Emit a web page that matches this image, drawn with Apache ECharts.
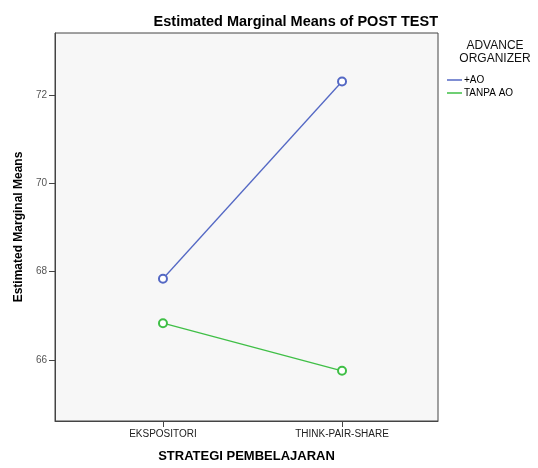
<!DOCTYPE html>
<html>
<head>
<meta charset="utf-8">
<script src="https://cdn.jsdelivr.net/npm/echarts@6/dist/echarts.min.js"></script>
<style>
  html, body { margin: 0; padding: 0; background: #fff; }
  #chart { width: 538px; height: 468px; }
</style>
</head>
<body>
<div id="chart"></div>
<script>
// data
const categories = ["EKSPOSITORI", "THINK-PAIR-SHARE"];
const seriesNames = ["+AO", "TANPA AO"];
const aoValues = [67.84, 72.32];
const tanpaValues = [66.83, 65.75];
const yTicks = [66, 68, 70, 72];

const FONT = "Liberation Sans, Arial, sans-serif";
const chart = echarts.init(document.getElementById("chart"));

function toPoints(vals) {
  return vals.map((v, i) => [i, v]);
}

const option = {
  backgroundColor: "#fff",
  animation: false,
  title: {
    text: "Estimated Marginal Means of POST TEST",
    right: 100,
    top: 14,
    padding: 0,
    textStyle: { fontFamily: FONT, fontSize: 14.5, fontWeight: "bold", color: "#000" }
  },
  legend: {
    orient: "vertical",
    left: 447,
    top: 75,
    padding: 0,
    itemGap: 3,
    itemWidth: 15,
    itemHeight: 1.5,
    icon: "rect",
    data: seriesNames,
    textStyle: { fontFamily: FONT, fontSize: 10, color: "#000", padding: [0, 0, 0, -3] }
  },
  graphic: [{
    type: "text",
    x: 495,
    y: 39,
    style: {
      text: "ADVANCE\nORGANIZER",
      align: "center",
      verticalAlign: "top",
      fontFamily: FONT,
      fontSize: 12,
      lineHeight: 13,
      fill: "#111"
    }
  }],
  grid: {
    left: 55, top: 33, right: 100, bottom: 43,
    show: true,
    backgroundColor: "#f7f7f7",
    borderColor: "#444",
    borderWidth: 1
  },
  xAxis: {
    type: "value",
    min: -0.603,
    max: 1.536,
    name: "STRATEGI PEMBELAJARAN",
    nameLocation: "middle",
    nameGap: 29,
    nameTextStyle: { fontFamily: FONT, fontSize: 13, fontWeight: "bold", color: "#000" },
    axisLine: { show: true, onZero: false, lineStyle: { color: "#444" } },
    axisTick: { show: true, customValues: [0, 1], length: 6, lineStyle: { color: "#444" } },
    axisLabel: {
      customValues: [0, 1],
      formatter: v => categories[Math.round(v)] || "",
      fontFamily: FONT, fontSize: 10, color: "#222", margin: 8
    },
    splitLine: { show: false }
  },
  yAxis: {
    type: "value",
    min: 64.61,
    max: 73.42,
    name: "Estimated Marginal Means",
    nameLocation: "middle",
    nameGap: 28,
    nameTextStyle: { fontFamily: FONT, fontSize: 12, fontWeight: "bold", color: "#000" },
    axisLine: { show: true, onZero: false, lineStyle: { color: "#444" } },
    axisTick: { show: true, customValues: yTicks, length: 6, lineStyle: { color: "#444" } },
    axisLabel: {
      customValues: yTicks,
      fontFamily: FONT, fontSize: 10, color: "#555", margin: 8
    },
    splitLine: { show: false }
  },
  series: [
    {
      name: seriesNames[0],
      type: "line",
      data: toPoints(aoValues),
      symbol: "emptyCircle",
      symbolSize: 8,
      color: "#5468c4",
      lineStyle: { width: 1.3, color: "#5468c4" },
      itemStyle: { color: "#5468c4", borderWidth: 1.1 }
    },
    {
      name: seriesNames[1],
      type: "line",
      data: toPoints(tanpaValues),
      symbol: "emptyCircle",
      symbolSize: 8,
      color: "#3fbf46",
      lineStyle: { width: 1.3, color: "#3fbf46" },
      itemStyle: { color: "#3fbf46", borderWidth: 1.1 }
    }
  ]
};

chart.setOption(option);
</script>
</body>
</html>
